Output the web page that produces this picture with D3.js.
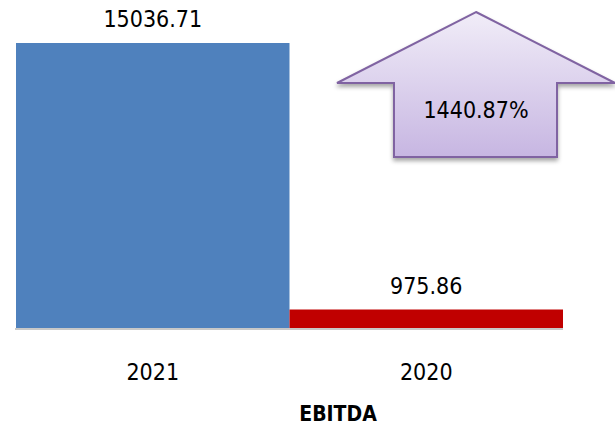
<!DOCTYPE html>
<html>
<head>
<meta charset="utf-8">
<script src="https://cdn.jsdelivr.net/npm/d3@7"></script>
<style>
  body { margin: 0; background: #fff; }
  text { font-family: "DejaVu Sans Condensed", "DejaVu Sans", sans-serif; }
</style>
</head>
<body>
<div id="chart"></div>
<script>
const years = ["2021", "2020"];
const ebitda = [15036.71, 975.86];
const barColors = ["#4f81bd", "#c00000"];
const title = "EBITDA";

const growth = ((ebitda[0] - ebitda[1]) / ebitda[1]) * 100;

const width = 615, height = 427;
const svg = d3.select("#chart").append("svg")
  .attr("width", width)
  .attr("height", height);

const x = d3.scaleBand().domain(years).range([16, 563]).padding(0);
const y = d3.scaleLinear().domain([0, d3.max(ebitda)]).range([328, 43]);

const defs = svg.append("defs");
const grad = defs.append("linearGradient")
  .attr("id", "arrowGrad")
  .attr("x1", "0%").attr("y1", "0%").attr("x2", "0%").attr("y2", "100%");
grad.append("stop").attr("offset", "0%").attr("stop-color", "#f1edf8");
grad.append("stop").attr("offset", "100%").attr("stop-color", "#c7b6e2");

const shadow = defs.append("filter").attr("id", "shadow")
  .attr("x", "-10%").attr("y", "-10%").attr("width", "130%").attr("height", "140%");
shadow.append("feDropShadow")
  .attr("dx", 0).attr("dy", 3).attr("stdDeviation", 2)
  .attr("flood-color", "#000").attr("flood-opacity", 0.35);

// baseline
svg.append("line")
  .attr("x1", x.range()[0] - 1).attr("x2", x.range()[1])
  .attr("y1", y(0) + 1).attr("y2", y(0) + 1)
  .attr("stroke", "#c8c8c8").attr("stroke-width", 2);

// bars
svg.selectAll("rect.bar")
  .data(years)
  .enter()
  .append("rect")
  .attr("class", "bar")
  .attr("x", (d) => x(d))
  .attr("width", x.bandwidth())
  .attr("y", (d, i) => y(ebitda[i]))
  .attr("height", (d, i) => y(0) - y(ebitda[i]))
  .attr("fill", (d, i) => barColors[i]);

// value labels
svg.selectAll("text.value")
  .data(years)
  .enter()
  .append("text")
  .attr("class", "value")
  .attr("x", (d) => x(d) + x.bandwidth() / 2)
  .attr("y", (d, i) => y(ebitda[i]) - 16)
  .attr("text-anchor", "middle")
  .attr("font-size", 23)
  .attr("fill", "#000")
  .text((d, i) => ebitda[i].toFixed(2));

// category labels
svg.selectAll("text.cat")
  .data(years)
  .enter()
  .append("text")
  .attr("class", "cat")
  .attr("x", (d) => x(d) + x.bandwidth() / 2)
  .attr("y", 380)
  .attr("text-anchor", "middle")
  .attr("font-size", 23)
  .attr("fill", "#000")
  .text((d) => d);

// title
svg.append("text")
  .attr("x", 338)
  .attr("y", 421)
  .attr("text-anchor", "middle")
  .attr("font-size", 21)
  .attr("font-weight", "bold")
  .attr("fill", "#000")
  .text(title);

// growth arrow
const arrow = svg.append("g");
const ax = 476;
arrow.append("path")
  .attr("d", d3.line()([
    [ax, 12], [ax + 139, 83], [ax + 81, 83], [ax + 81, 157],
    [ax - 82, 157], [ax - 82, 83], [ax - 139, 83]
  ]) + "Z")
  .attr("fill", "url(#arrowGrad)")
  .attr("stroke", "#8064a2")
  .attr("stroke-width", 2)
  .attr("stroke-linejoin", "miter")
  .attr("filter", "url(#shadow)");

arrow.append("text")
  .attr("x", ax)
  .attr("y", 118)
  .attr("text-anchor", "middle")
  .attr("font-size", 23)
  .attr("fill", "#000")
  .text(growth.toFixed(2) + "%");
</script>
</body>
</html>
